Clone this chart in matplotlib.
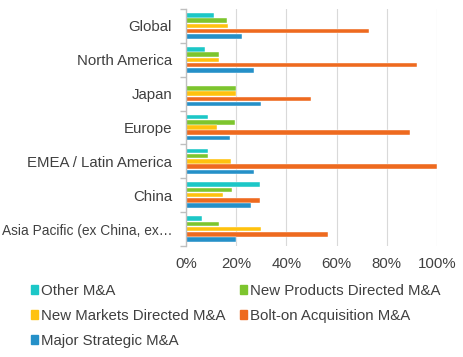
import matplotlib
matplotlib.use("Agg")
import matplotlib.pyplot as plt
import numpy as np
from matplotlib.patches import Patch

plt.rcParams['font.family'] = ['Liberation Sans', 'DejaVu Sans']

categories = ["Global", "North America", "Japan", "Europe",
              "EMEA / Latin America", "China", "Asia Pacific (ex China, ex…"]
series_names = ["Other M&A", "New Products Directed M&A", "New Markets Directed M&A",
                "Bolt-on Acquisition M&A", "Major Strategic M&A"]
other_ma = [11, 7.7, 0, 8.8, 8.8, 29.6, 6.4]
new_products = [16.3, 13.3, 20, 19.5, 8.8, 18.3, 13.2]
new_markets = [16.8, 13.3, 20, 12.3, 18, 14.7, 29.9]
bolt_on = [73, 92, 50, 89.2, 100, 29.6, 56.7]
major_strategic = [22.5, 27, 30, 17.7, 27.2, 25.7, 20]
x_ticks = [0, 20, 40, 60, 80, 100]
x_ticklabels = ["0%", "20%", "40%", "60%", "80%", "100%"]

colors = ["#1CC7C7", "#7DC52E", "#FFC20E", "#EE6A1F", "#2590C8"]
data = [other_ma, new_products, new_markets, bolt_on, major_strategic]
FS = 10.8
TC = '#404040'

fig = plt.figure(figsize=(4.64, 3.57), dpi=100)
ax = fig.add_axes([186/464, 1-246/357, (437-186)/464, (246-9)/357])

n = len(categories)
centers = np.arange(n)
pitch = 0.156
bh = 0.135
for i, (vals, c) in enumerate(zip(data, colors)):
    offs = (i - 2) * pitch
    ax.barh(centers + offs, vals, height=bh, color=c, edgecolor='white',
            linewidth=0.3, zorder=3)

ax.set_ylim(n - 0.5, -0.5)
ax.set_xlim(0, 100)
ax.set_yticks(centers)
ax.set_yticklabels(categories, fontsize=FS, color=TC)
ax.get_yticklabels()[-1].set_fontsize(9.9)
ax.set_yticks(np.arange(n + 1) - 0.5, minor=True)
ax.tick_params(axis='y', which='major', length=0, pad=10)
ax.tick_params(axis='y', which='minor', length=4, color='#BFBFBF', width=1)
ax.set_xticks(x_ticks)
ax.set_xticklabels(x_ticklabels, fontsize=FS, color=TC)
ax.tick_params(axis='x', length=0, pad=8)
ax.grid(axis='x', color='#D9D9D9', linewidth=0.8, zorder=0)
for s in ['top', 'right', 'bottom']:
    ax.spines[s].set_visible(False)
ax.spines['left'].set_color('#BFBFBF')
ax.spines['left'].set_linewidth(1)
ax.spines['left'].set_zorder(4)

handles = [Patch(color=c, label=l) for c, l in zip(colors, series_names)]
order = [0, 2, 4, 1, 3]
fig.legend([handles[i] for i in order], [series_names[i] for i in order],
           ncol=2, loc='upper left', bbox_to_anchor=(31/464, 1-284/357),
           frameon=False, fontsize=FS, labelcolor=TC,
           handlelength=0.5, handleheight=0.5, handletextpad=0.2,
           columnspacing=0.9, labelspacing=0.72, borderpad=0, borderaxespad=0)

fig.savefig("out.png", dpi=100)
